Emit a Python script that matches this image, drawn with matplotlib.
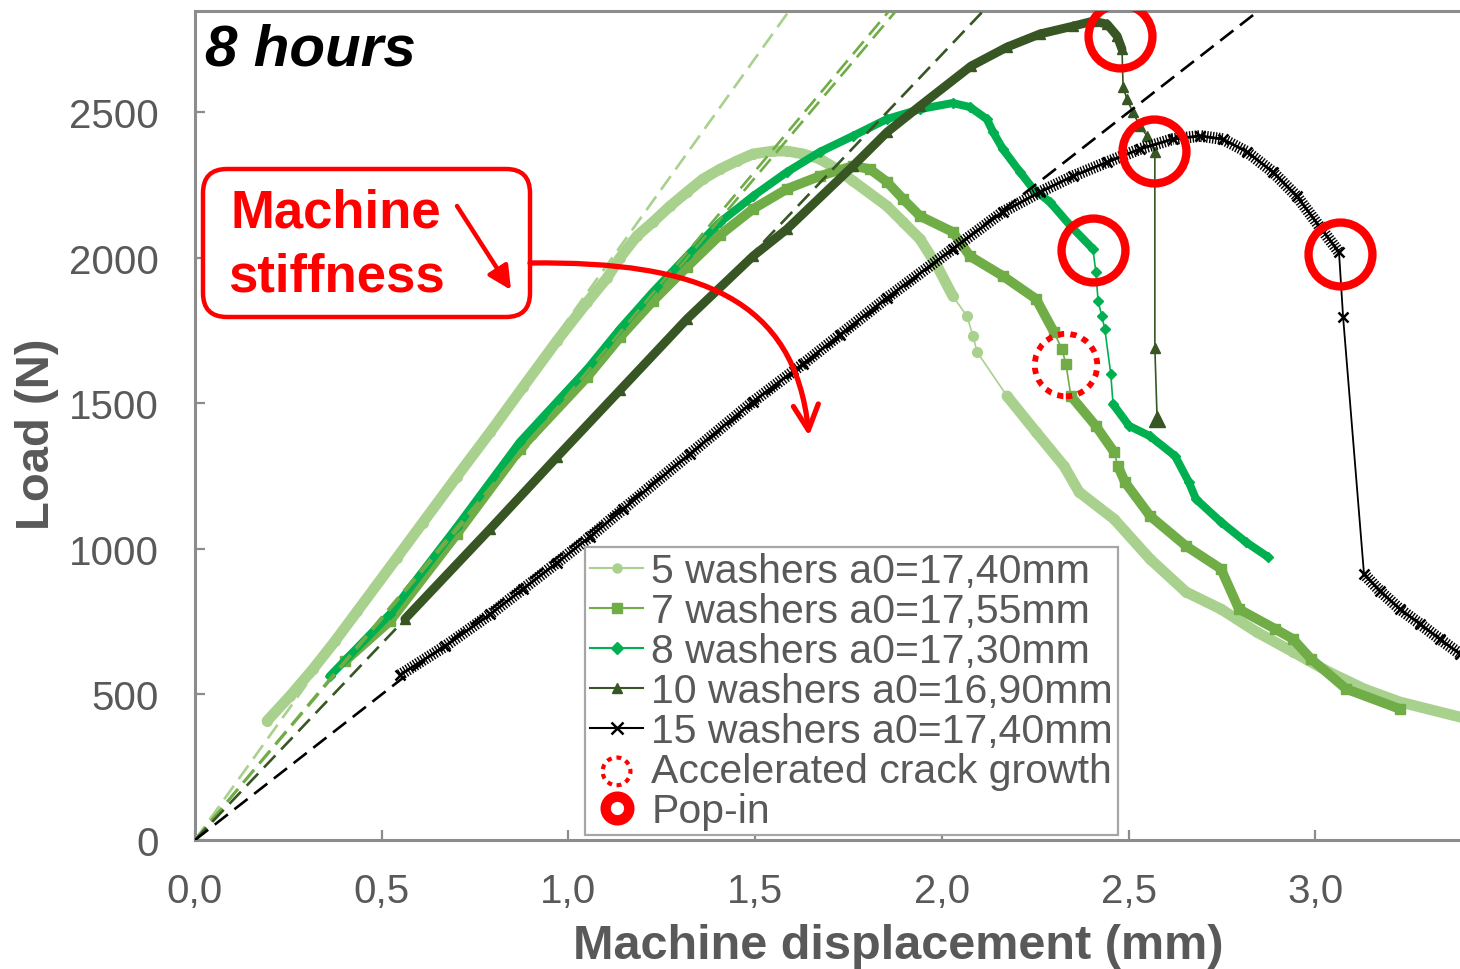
import matplotlib
matplotlib.use("Agg")
import matplotlib.pyplot as plt
from matplotlib.lines import Line2D
from matplotlib.patches import FancyBboxPatch, FancyArrowPatch
from matplotlib.path import Path
from matplotlib.transforms import Affine2D

plt.rcParams['font.family'] = ['Liberation Sans', 'DejaVu Sans']
plt.rcParams['lines.scale_dashes'] = False

# ---------------- data ----------------
labels = ["5 washers a0=17,40mm", "7 washers a0=17,55mm", "8 washers a0=17,30mm",
          "10 washers a0=16,90mm", "15 washers a0=17,40mm"]

x5 = [0.193, 0.254, 0.316, 0.375, 0.434, 0.541, 0.610, 0.701, 0.790, 0.878, 0.969, 1.050,
      1.103, 1.138, 1.183, 1.226, 1.272, 1.317, 1.360, 1.406, 1.451, 1.494, 1.548, 1.585,
      1.628, 1.673, 1.719, 1.762, 1.853, 1.896, 1.941, 1.987, 2.029, 2.067, 2.083, 2.094,
      2.174, 2.252, 2.327, 2.367, 2.461, 2.557, 2.653, 2.747, 2.843, 2.940, 3.036, 3.130,
      3.226, 3.400]
y5 = [409, 494, 587, 683, 785, 970, 1090, 1248, 1400, 1555, 1714, 1847,
      1930, 2000, 2074, 2122, 2177, 2225, 2270, 2304, 2332, 2356, 2366, 2366,
      2356, 2339, 2304, 2263, 2177, 2122, 2064, 1971, 1868, 1799, 1731, 1676,
      1525, 1401, 1284, 1195, 1102, 965, 852, 793, 714, 646, 577, 519,
      474, 418]

x7 = [0.402, 0.522, 0.701, 0.870, 1.050, 1.138, 1.226, 1.317, 1.406, 1.494, 1.585, 1.673,
      1.762, 1.807, 1.853, 1.896, 1.941, 2.029, 2.075, 2.163, 2.252, 2.300, 2.321, 2.332,
      2.345, 2.412, 2.461, 2.471, 2.490, 2.557, 2.653, 2.747, 2.795, 2.892, 2.940, 2.988,
      3.082, 3.226]
y7 = [615, 752, 1051, 1343, 1590, 1727, 1851, 1968, 2078, 2167, 2236, 2280,
      2315, 2304, 2260, 2201, 2143, 2088, 2005, 1937, 1858, 1744, 1686, 1635,
      1525, 1422, 1332, 1284, 1229, 1113, 1010, 931, 793, 725, 690, 622,
      519, 450]

x8 = [0.361, 0.522, 0.701, 0.870, 1.050, 1.138, 1.226, 1.317, 1.406, 1.494, 1.585, 1.673,
      1.762, 1.853, 1.941, 2.029, 2.075, 2.120, 2.137, 2.163, 2.209, 2.244, 2.289, 2.345,
      2.404, 2.412, 2.418, 2.428, 2.436, 2.452, 2.458, 2.501, 2.557, 2.624, 2.661, 2.680,
      2.747, 2.814, 2.873]
y8 = [563, 776, 1075, 1367, 1617, 1755, 1882, 2005, 2122, 2211, 2294, 2363,
      2418, 2476, 2510, 2531, 2517, 2476, 2431, 2373, 2294, 2236, 2191, 2108,
      2030, 1951, 1851, 1799, 1755, 1600, 1497, 1422, 1387, 1319, 1229, 1171,
      1092, 1023, 972]

x10 = [0.562, 0.790, 0.969, 1.138, 1.317, 1.494, 1.585, 1.762, 1.853, 1.941, 2.078, 2.174,
       2.262, 2.351, 2.404, 2.442, 2.469, 2.482, 2.485, 2.495, 2.511, 2.530, 2.549, 2.570,
       2.570, 2.576]
y10 = [759, 1068, 1315, 1545, 1789, 2005, 2098, 2315, 2431, 2521, 2658, 2723,
       2768, 2795, 2812, 2802, 2761, 2716, 2586, 2545, 2500, 2452, 2418, 2363,
       1690, 1446]

x15 = [0.549, 0.669, 0.790, 0.878, 0.969, 1.058, 1.146, 1.325, 1.494, 1.628, 1.727, 1.853,
       2.029, 2.163, 2.262, 2.351, 2.442, 2.530, 2.618, 2.691, 2.752, 2.817, 2.886, 2.950,
       3.012, 3.063, 3.074, 3.130, 3.173, 3.226, 3.280, 3.333, 3.387, 3.420]
y15 = [567, 665, 775, 862, 952, 1042, 1136, 1326, 1505, 1635, 1735, 1862,
       2030, 2157, 2225, 2280, 2328, 2373, 2407, 2418, 2407, 2363, 2294, 2211,
       2105, 2019, 1796, 913, 855, 793, 742, 690, 639, 612]

stiffness = [1790, 1532, 1517, 1349, 1000]      # N/mm, dashed machine-stiffness lines

popin_x = [2.477, 2.568, 2.404, 3.066]
popin_y = [2761, 2366, 2026, 2012]
crack_x = [2.332]
crack_y = [1631]

xticks = [0.0, 0.5, 1.0, 1.5, 2.0, 2.5, 3.0]
xticklabels = ["0,0", "0,5", "1,0", "1,5", "2,0", "2,5", "3,0"]
yticks = [0, 500, 1000, 1500, 2000, 2500]
yticklabels = ["0", "500", "1000", "1500", "2000", "2500"]

# ---------------- style ----------------
series = [
    dict(x=x5, y=y5, color='#A9D18E', marker='o', ms=7, band=7.8, bands=[(0, 32), (36, 49)], dcol='#A9D18E'),
    dict(x=x7, y=y7, color='#70AD47', marker='s', ms=6.5, band=7.0, bands=[(0, 21), (24, 26), (27, 37)], dcol='#70AD47'),
    dict(x=x8, y=y8, color='#00B050', marker='D', ms=5.5, band=5.8, bands=[(0, 24), (30, 38)], dcol='#70AD47'),
    dict(x=x10, y=y10, color='#375623', marker='^', ms=7, band=6.4, bands=[(0, 17)], dcol='#375623'),
    dict(x=x15, y=y15, color='#000000', marker='x', ms=7, band=8.5, bands=[(0, 25), (27, 33)], dcol='#000000'),
]

W, H = 1460, 970
fig = plt.figure(figsize=(W / 100, H / 100), dpi=100)
T = Affine2D().scale(1.0 / W, -1.0 / H).translate(0, 1) + fig.transFigure

L, R, TOP, BOT = 195, 1460, 12, 841
ax = fig.add_axes([L / W, 1 - BOT / H, (R - L) / W, (BOT - TOP) / H])
ax.set_xlim(0, 3.387)
ax.set_ylim(0, 2847)

for i, s in enumerate(series):
    x, y, c = s['x'], s['y'], s['color']
    z = 2 + i
    # thin connecting line with markers
    if s['marker'] == 'x':
        ax.plot(x, y, color=c, lw=1.3, marker='x', ms=s['ms'], mew=1.8, zorder=z)
    else:
        ax.plot(x, y, color=c, lw=1.2, marker=s['marker'], ms=s['ms'], mec=c, mfc=c, zorder=z)
    # dense parts drawn as a band
    for a, b in s['bands']:
        if s['marker'] == 'x':
            ax.plot(x[a:b + 1], y[a:b + 1], color=c, lw=2.0, zorder=z)
            ax.plot(x[a:b + 1], y[a:b + 1], color=c, lw=s['band'], dashes=(1.0, 1.1),
                    dash_capstyle='butt', zorder=z)
        else:
            ax.plot(x[a:b + 1], y[a:b + 1], color=c, lw=s['band'], solid_capstyle='round',
                    solid_joinstyle='round', zorder=z)

# big final triangle of the 10 washers series
ax.plot(x10[-1:], y10[-1:], ls='none', marker='^', ms=12, color='#375623', zorder=6)

# machine stiffness dashed lines
for k, s in zip(stiffness, series):
    ln = ax.axline((0, 0), slope=k, color=s['dcol'], lw=1.9, zorder=7)
    ln.set_dashes((12, 6))

# pop-in and accelerated crack markers
ax.plot(popin_x, popin_y, ls='none', marker='o', ms=46, mfc='none', mec='#FF0000', mew=6, zorder=9)
ax.scatter(crack_x, crack_y, s=45 ** 2, facecolors='none', edgecolors='#FF0000', linewidths=4.2,
           linestyles=[(0, (4.5, 4.5))], zorder=9)

# axes styling
for sp in ['left', 'bottom', 'top']:
    ax.spines[sp].set_color('#8C8C8C')
    ax.spines[sp].set_linewidth(2.2)
ax.spines['right'].set_visible(False)
ax.set_xticks(xticks)
ax.set_xticklabels(xticklabels)
ax.set_yticks(yticks)
ax.set_yticklabels(yticklabels)
ax.tick_params(axis='both', direction='in', length=7, width=1.6, color='#8C8C8C',
               labelcolor='#595959', labelsize=29)
ax.tick_params(axis='x', pad=23)
ax.tick_params(axis='y', pad=26)

fig.text(898 / W, 1 - 947 / H, 'Machine displacement (mm)', ha='center', va='center',
         fontsize=35, fontweight='bold', color='#595959')
fig.text(37 / W, 1 - 434 / H, 'Load (N)', ha='center', va='center', rotation=90,
         fontsize=34, fontweight='bold', color='#595959')

fig.text(205 / W, 1 - 50 / H, '8 hours', ha='left', va='center', fontsize=42,
         fontweight='bold', fontstyle='italic', color='black')

# legend
handles = []
for s in series:
    if s['marker'] == 'x':
        handles.append(Line2D([], [], color=s['color'], lw=1.5, marker='x', ms=8, mew=1.8))
    else:
        handles.append(Line2D([], [], color=s['color'], lw=1.5, marker=s['marker'], ms=6.5,
                              mfc=s['color'], mec=s['color']))
h_crack = ax.scatter([], [], s=20 ** 2, facecolors='none', edgecolors='#FF0000', linewidths=3,
                     linestyles=[(0, (3.5, 3.5))])
h_pop = Line2D([], [], ls='none', marker='o', ms=17, mfc='none', mec='#FF0000', mew=7.5)
handles += [h_crack, h_pop]
leg = ax.legend(handles, labels + ['Accelerated crack growth', 'Pop-in'],
                loc='upper left', bbox_to_anchor=(585 / W, 1 - 548 / H),
                bbox_transform=fig.transFigure, fontsize=29.5, frameon=True, fancybox=False,
                edgecolor='#A6A6A6', framealpha=1, borderpad=0.12, labelspacing=0.05,
                handlelength=1.3, handletextpad=0.2, borderaxespad=0, labelcolor='#595959',
                scatterpoints=1)
leg.get_frame().set_linewidth(1.6)
leg.set_zorder(8)

# "Machine stiffness" annotation
box = FancyBboxPatch((203, 170), 327, 148, boxstyle='round,pad=0,rounding_size=24',
                     transform=T, fc='white', ec='#FF0000', lw=3.2, zorder=10)
fig.patches.append(box)
fig.text(336 / W, 1 - 213 / H, 'Machine', ha='center', va='center', fontsize=38,
         fontweight='bold', color='#FF0000', zorder=11)
fig.text(336 / W, 1 - 277 / H, 'stiffness', ha='center', va='center', fontsize=38,
         fontweight='bold', color='#FF0000', zorder=11)
a1 = FancyArrowPatch((457, 207), (511, 291), arrowstyle='-|>,head_length=14,head_width=7',
                     transform=T, color='#FF0000', lw=3.2, shrinkA=0, shrinkB=0, zorder=11)
fig.patches.append(a1)
curve = Path([(530, 264), (700, 262), (795, 300), (809, 437)],
             [Path.MOVETO, Path.CURVE4, Path.CURVE4, Path.CURVE4])
a2 = FancyArrowPatch(path=curve, arrowstyle='->,head_length=18,head_width=9',
                     transform=T, color='#FF0000', lw=3.8, capstyle='round',
                     joinstyle='round', zorder=11)
fig.patches.append(a2)

fig.savefig('out.png', dpi=100)
